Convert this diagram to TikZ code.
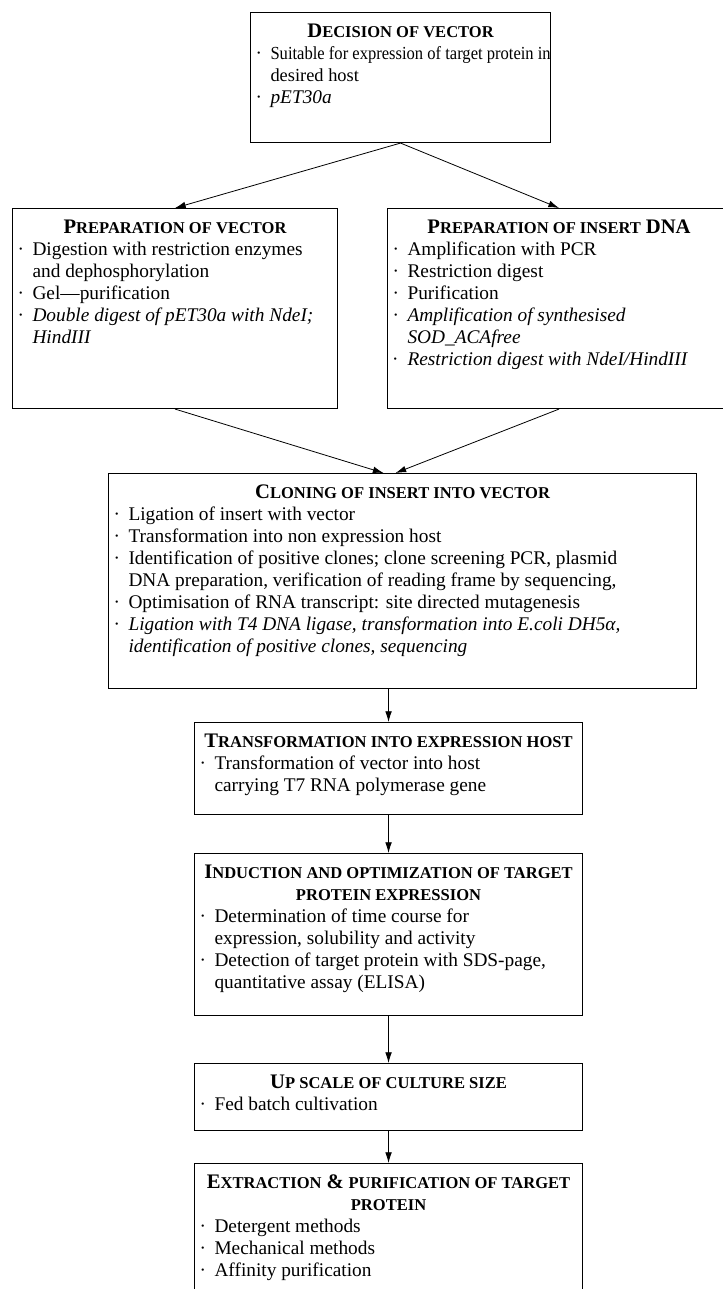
\documentclass[tikz,border=0pt]{standalone}
\usepackage{graphicx}
\usepackage{fontspec}
\setmainfont{Liberation Serif}
\usetikzlibrary{arrows.meta}

\newdimen\pxu \pxu=0.75pt
% small caps heading: first letter big, rest small
\newcommand{\hd}[2]{{\bfseries\fontsize{15.5pt}{16.5pt}\selectfont #1{\fontsize{12.4pt}{16.5pt}\selectfont #2}}}
\newcommand{\itm}[1]{\par\leftskip=5\pxu\hangindent=15\pxu\hangafter=1\noindent\makebox[15\pxu][l]{\textperiodcentered}#1}
\newcommand{\stagetext}[3]{\parbox[c][#2\pxu][t]{#1\pxu}{\fontsize{14.5pt}{16.5pt}\selectfont\raggedright\vspace*{11\pxu}#3}}

\tikzset{
	stage/.style={draw, line width=0.8pt, inner sep=0pt, anchor=north west},
	flow/.style={-{Latex[length=8pt,width=5pt]}, line width=0.6pt}
}

\begin{document}
\begin{tikzpicture}[x=0.75pt,y=-0.75pt]
		\useasboundingbox (0,0) rectangle (723,1289);
		\node[stage] (dec) at (250,12) {\stagetext{300}{130}{%
			{\centering\hd{D}{ECISION OF VECTOR}\par}
			\itm{{\fontsize{13.8pt}{16.5pt}\selectfont\scalebox{0.9}[1]{Suitable for expression of target protein in}\newline desired host}}
			\itm{\itshape pET30a}}};
		\node[stage] (prepvec) at (12,208) {\stagetext{325}{200}{%
			{\centering\hd{P}{REPARATION OF VECTOR}\par}
			\itm{Digestion with restriction enzymes\newline and dephosphorylation}
			\itm{Gel---purification}
			\itm{\itshape Double digest of pET30a with NdeI;\newline HindIII}}};
		\node[stage] (prepins) at (387,208) {\stagetext{343}{200}{%
			{\centering\hd{P}{REPARATION OF INSERT} {\bfseries\fontsize{15.5pt}{16.5pt}\selectfont DNA}\par}
			\itm{Amplification with PCR}
			\itm{Restriction digest}
			\itm{Purification}
			\itm{\itshape Amplification of synthesised\newline SOD\_ACAfree}
			\itm{\itshape Restriction digest with NdeI/HindIII}}};
		\node[stage] (clone) at (108,473) {\stagetext{588}{215}{%
			{\centering\hd{C}{LONING OF INSERT INTO VECTOR}\par}
			\itm{Ligation of insert with vector}
			\itm{Transformation into non expression host}
			\itm{Identification of positive clones; clone screening PCR, plasmid\newline DNA preparation, verification of reading frame by sequencing,}
			\itm{Optimisation of RNA transcript: site directed mutagenesis}
			\itm{\itshape Ligation with T4 DNA ligase, transformation into E.coli DH5α,\newline identification of positive clones, sequencing}}};
		\node[stage] (trans) at (194,722) {\stagetext{388}{92}{%
			{\centering\hd{T}{RANSFORMATION INTO EXPRESSION HOST}\par}
			\itm{Transformation of vector into host\newline carrying T7 RNA polymerase gene}}};
		\node[stage] (induct) at (194,853) {\stagetext{388}{162}{%
			{\centering\hd{I}{NDUCTION AND OPTIMIZATION OF TARGET}\\\hd{}{PROTEIN EXPRESSION}\par}
			\itm{Determination of time course for\newline expression, solubility and activity}
			\itm{Detection of target protein with SDS-page,\newline quantitative assay (ELISA)}}};
		\node[stage] (upscale) at (194,1063) {\stagetext{388}{67}{%
			{\centering\hd{U}{P SCALE OF CULTURE SIZE}\par}
			\itm{Fed batch cultivation}}};
		\node[stage] (extract) at (194,1163) {\stagetext{388}{150}{%
			{\centering\hd{E}{XTRACTION} \hd{\&}{} \hd{}{PURIFICATION OF TARGET}\\\hd{}{PROTEIN}\par}
			\itm{Detergent methods}
			\itm{Mechanical methods}
			\itm{Affinity purification}}};
		% arrows
		\draw[flow] (dec.south) -- (prepvec.north);
		\draw[flow] (dec.south) -- (prepins.north);
		\draw[flow] (prepvec.south) -- ([xshift=-19\pxu]clone.north);
		\draw[flow] (prepins.south) -- ([xshift=-7\pxu]clone.north);
		\draw[flow] (clone.south -| trans.north) -- (trans.north);
		\draw[flow] (trans.south) -- (induct.north);
		\draw[flow] (induct.south) -- (upscale.north);
		\draw[flow] (upscale.south) -- (extract.north);
	\end{tikzpicture}
\end{document}
